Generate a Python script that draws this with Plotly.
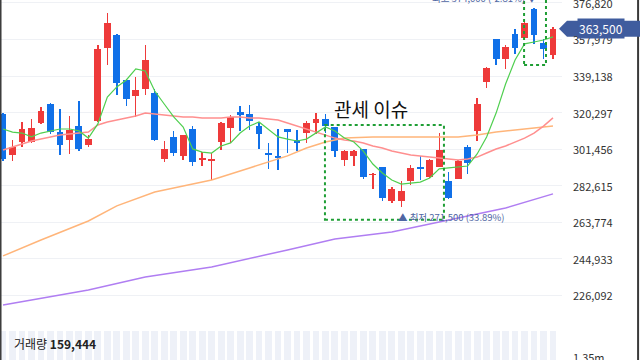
import plotly.graph_objects as go

# ---- data ----
opens  = [319500, 298500, 305000, 305000, 315000, 324500, 310000, 306000, 313500, 303500,
          316000, 353500, 360500, 337000, 329000, 332500, 330500, 296500, 307500, 298000,
          312000, 296000, 295500, 305000, 312500, 320500, 319500, 313500, 299500, 298000,
          312000, 306000, 309500, 315000, 317000, 313000, 296000, 298000, 301500, 288000,
          292000, 274500, 274500, 285000, 292000, 287000, 292000, 285000, 286000, 302500,
          311000, 336000, 358000, 348000, 361000, 359000, 373500, 356000, 350000]
highs  = [320000, 306000, 315500, 317000, 323000, 325000, 322000, 318500, 326000, 308500,
          355000, 371500, 361000, 337500, 338500, 355000, 332500, 305500, 311000, 308500,
          313500, 300000, 299500, 315500, 319000, 323500, 324000, 315500, 304500, 312000,
          312000, 311500, 316000, 320000, 319500, 313000, 301000, 301000, 301500, 289000,
          292000, 282000, 285000, 293000, 298000, 296500, 309500, 289500, 296000, 303500,
          328000, 344000, 358000, 355000, 363500, 368000, 374000, 358000, 364500]
lows   = [295500, 295500, 302500, 304500, 314500, 309000, 298500, 299000, 300500, 302500,
          315500, 345000, 329500, 323500, 318000, 329500, 305500, 295000, 298000, 296000,
          292500, 292500, 285500, 301000, 304500, 311000, 311500, 301500, 291000, 290500,
          299500, 300500, 304500, 309000, 309500, 297500, 292500, 292500, 286000, 281000,
          274500, 273500, 271500, 283000, 285500, 286500, 292000, 275500, 286000, 288500,
          305500, 333000, 345000, 342500, 350500, 357500, 355500, 348000, 348000]
closes = [296500, 302500, 312000, 312500, 321000, 310000, 303500, 311500, 301500, 306500,
          353000, 366500, 335500, 327500, 332000, 347500, 306000, 301500, 299500, 308500,
          295000, 297000, 296500, 315000, 318000, 319000, 316000, 309000, 298500, 297000,
          310000, 304500, 315000, 317000, 313500, 300500, 300500, 300500, 287000, 288500,
          276000, 281000, 280000, 291500, 291000, 296000, 301000, 276000, 295500, 294000,
          324500, 343500, 348000, 354000, 353500, 366500, 360500, 353000, 363500]

ma5  = [311800, 310200, 309700, 307700, 309700, 310800, 311800, 311800, 310800, 307100,
        314400, 328300, 333500, 337100, 342800, 341700, 331400, 324700, 318000, 312800,
        301500, 299900, 299400, 303000, 304600, 309700, 313300, 315400, 311300, 307700,
        306600, 305600, 306600, 309700, 312800, 310800, 307100, 305100, 300400, 293700,
        289100, 285500, 283400, 283900, 284400, 286500, 291200, 291700, 292200, 292700,
        298900, 307700, 320000, 335000, 347400, 355700, 356700, 357700, 359300]
ma20 = [301000, 302500, 304100, 305600, 306600, 307700, 308700, 309200, 309700, 310200,
        313900, 315400, 316400, 317500, 318500, 320000, 319500, 319000, 318500, 318000,
        318000, 317500, 317500, 317500, 318000, 318000, 317500, 317500, 317000, 316400,
        314900, 313300, 311800, 310200, 308700, 307100, 306100, 305600, 304600, 303000,
        302000, 300400, 299400, 298400, 297900, 297300, 296800, 296300, 295800, 296300,
        297300, 299400, 301500, 303000, 305100, 307100, 309700, 313300, 317500]
ma60_idx = [0, 4, 9, 12, 16, 20, 22, 26, 30, 32, 34, 36, 39, 42, 45, 48, 50, 52, 55, 58]
ma60     = [246300, 254500, 264300, 272100, 279300, 283400, 285500, 291700, 297900, 302000,
            305100, 307100, 307700, 307700, 307700, 307700, 308700, 310200, 311800, 313300]
ma120_idx = [0, 9, 15, 22, 30, 35, 41, 47, 53, 58]
ma120     = [221000, 228700, 235400, 240600, 249400, 255000, 258600, 264800, 271000, 278300]

volume = [2.4e6, 2.1e6, 2.3e6, 2.2e6, 2.5e6, 2.6e6, 2.2e6, 2.1e6, 2.4e6, 2.0e6,
          5.8e6, 6.2e6, 4.5e6, 3.1e6, 2.9e6, 3.6e6, 3.8e6, 2.6e6, 2.3e6, 2.2e6,
          2.7e6, 2.0e6, 2.4e6, 2.9e6, 2.6e6, 2.3e6, 2.1e6, 2.2e6, 2.5e6, 2.4e6,
          2.2e6, 2.0e6, 2.3e6, 2.1e6, 2.0e6, 2.8e6, 2.3e6, 2.1e6, 3.0e6, 2.6e6,
          3.3e6, 2.9e6, 3.1e6, 2.7e6, 2.2e6, 2.4e6, 3.2e6, 3.4e6, 2.5e6, 2.6e6,
          4.1e6, 3.7e6, 3.5e6, 2.9e6, 3.0e6, 3.2e6, 3.6e6, 2.8e6, 2.6e6]

price_ticks = [376820, 357979, 339138, 320297, 301456, 282615, 263774, 244933, 226092]
vol_ticks = [1.35e6]
vol_tick_text = ["1.35m"]
last_volume_text = "159,444"
event_label = "관세 이슈"
event_box = dict(x0=33.95, x1=46.5, y0=265000, y1=313900)
high_box = dict(x0=54.95, x1=57.26, y0=344800, y1=381000)

# ---- styling ----
RED = "#ee3a3a"
BLUE = "#1070e8"
x = list(range(len(opens)))
colors = [RED if c >= o else BLUE for o, c in zip(opens, closes)]

fig = go.Figure()

# volume pane
fig.add_trace(go.Bar(x=x, y=volume, yaxis="y2", width=0.72,
                     marker=dict(color="#eef1f8", line=dict(width=0)), hoverinfo="skip"))

# moving averages
fig.add_trace(go.Scatter(x=ma120_idx, y=ma120, mode="lines",
                         line=dict(color="#b07ef2", width=1.5), hoverinfo="skip"))
fig.add_trace(go.Scatter(x=ma60_idx, y=ma60, mode="lines",
                         line=dict(color="#ffb57a", width=1.5), hoverinfo="skip"))
fig.add_trace(go.Scatter(x=x, y=ma20, mode="lines",
                         line=dict(color="#ff8f8f", width=1.5), hoverinfo="skip"))

# wicks
fig.add_trace(go.Bar(x=x, y=[h - l for h, l in zip(highs, lows)], base=lows, width=0.15,
                     marker=dict(color=colors, line=dict(width=0)), hoverinfo="skip"))
# bodies
fig.add_trace(go.Bar(x=x, y=[abs(c - o) for o, c in zip(opens, closes)],
                     base=[min(o, c) for o, c in zip(opens, closes)], width=0.72,
                     marker=dict(color=colors, line=dict(width=0)), hoverinfo="skip"))

fig.add_trace(go.Scatter(x=x, y=ma5, mode="lines",
                         line=dict(color="#4fcf4f", width=1.2), hoverinfo="skip"))

hi_val = max(highs)
hi_idx = highs.index(hi_val)
lo_val = min(lows)
lo_idx = lows.index(lo_val)
last = closes[-1]
hi_pct = (last - hi_val) / hi_val * 100
lo_pct = (last - lo_val) / lo_val * 100

ppx = 516.0  # price per pixel (approx.)
GREEN = "#1f9e35"
shapes = [
    dict(type="rect", xref="x", yref="y", **event_box,
         line=dict(color=GREEN, width=2, dash="dot"), fillcolor="rgba(0,0,0,0)"),
    dict(type="rect", xref="x", yref="y", **high_box,
         line=dict(color=GREEN, width=2, dash="dot"), fillcolor="rgba(0,0,0,0)"),
    dict(type="line", xref="paper", yref="paper", x0=0.0012, x1=0.0012, y0=0, y1=1,
         line=dict(color="#3a3a3a", width=1.5)),
    dict(type="line", xref="paper", yref="paper", x0=0.997, x1=0.997, y0=0, y1=1,
         line=dict(color="#3a3a3a", width=2)),
]

FONT = "Noto Sans CJK KR, Noto Sans, sans-serif"
TICK_FONT = dict(family=FONT, size=11, color="#333333")
annotations = []
# axis tick labels drawn as text so that the edge ones are not dropped
for v in price_ticks:
    annotations.append(dict(x=571 / 640, y=v, xref="paper", yref="y", showarrow=False,
                            xanchor="left", yanchor="middle", text=f"{v:,}",
                            font=TICK_FONT))
for v, t in zip(vol_ticks, vol_tick_text):
    annotations.append(dict(x=571 / 640, y=v, xref="paper", yref="y2", showarrow=False,
                            xanchor="left", yanchor="middle", text=t, font=TICK_FONT))

# current-price tag (drawn after tick labels so it sits on top)
shapes.append(dict(type="path", xref="paper", yref="y", layer="above",
                   path=(f"M 0.8734 {last} L 0.8859 {last + 8 * ppx} L 1.0 {last + 8 * ppx} "
                         f"L 1.0 {last - 8 * ppx} L 0.8859 {last - 8 * ppx} Z"),
                   fillcolor="#3f5c9e", line=dict(width=0)))

annotations += [
    dict(x=38.8, y=322600, xref="x", yref="y", text=event_label, showarrow=False,
         font=dict(family=FONT, size=19, color="#111111")),
    dict(x=hi_idx, y=hi_val, xref="x", yref="y", showarrow=False,
         text=f"최고 {hi_val:,} ({hi_pct:.2f}%) ▼", xanchor="right", yanchor="bottom",
         xshift=5, yshift=1, font=dict(family=FONT, size=9.5, color="#4f66a3")),
    dict(x=lo_idx, y=lo_val, xref="x", yref="y", showarrow=False,
         text=f"▲ 최저 {lo_val:,} ({lo_pct:.2f}%)", xanchor="left", yanchor="top",
         xshift=-5, yshift=-1, font=dict(family=FONT, size=9.5, color="#4f66a3")),
    dict(x=601 / 640, y=last, xref="paper", yref="y", showarrow=False,
         xanchor="center", yanchor="middle",
         text=f"{last:,}", font=dict(family=FONT, size=12, color="#ffffff"),
         bgcolor="#3f5c9e", borderpad=1),
    dict(x=12 / 640, y=1 - 343 / 360, xref="paper", yref="paper", showarrow=False,
         xanchor="left", yanchor="middle",
         text=f"거래량 <b>{last_volume_text}</b>",
         font=dict(family=FONT, size=12, color="#222222")),
]

fig.update_layout(
    width=640, height=360,
    margin=dict(l=0, r=0, t=0, b=0, autoexpand=False),
    paper_bgcolor="white", plot_bgcolor="white",
    showlegend=False, barmode="overlay", bargap=0,
    shapes=shapes, annotations=annotations,
    xaxis=dict(domain=[0, 562 / 640], range=[-0.32, 58.95], showgrid=False,
               showticklabels=False, zeroline=False, showline=False, ticks="",
               automargin=False),
    yaxis=dict(domain=[0, 1], range=[192594, 378354], side="right",
               tickvals=price_ticks, showticklabels=False, showgrid=True,
               gridcolor="#eff1f5", gridwidth=1, zeroline=False, showline=False,
               ticks="", automargin=False),
    yaxis2=dict(domain=[0, 29 / 360], range=[1.3e6, 1.86e6], side="right", anchor="x",
                tickvals=vol_ticks, showticklabels=False, showgrid=False,
                zeroline=False, showline=False, ticks="", automargin=False),
)

fig.write_html("out.html", config={"displayModeBar": False, "staticPlot": True},
               post_script="document.body.style.margin='0';document.body.style.overflow='hidden';")
